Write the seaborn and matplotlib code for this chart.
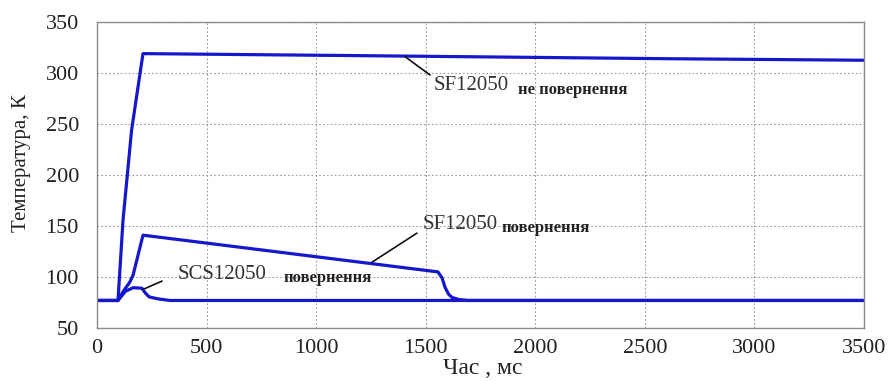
import numpy as np
import pandas as pd
import matplotlib
matplotlib.use("Agg")
import matplotlib.pyplot as plt
import seaborn as sns

# Temperature curves, time in ms, temperature in K
t_sf_no_return = [0, 96, 119, 158, 210, 700, 1200, 1900, 2600, 3500]
T_sf_no_return = [77, 77, 156, 244, 319, 318, 317, 315.5, 314, 312.5]

t_sf_return = [0, 96, 120, 150, 165, 210, 1556, 1575, 1588, 1605, 1620, 1650, 1690, 3500]
T_sf_return = [77, 77, 86, 95, 102, 141, 105, 99, 90, 83, 80, 78, 77, 77]

t_scs_return = [0, 96, 130, 165, 205, 222, 238, 280, 333, 3500]
T_scs_return = [77, 77, 86, 89.5, 89, 84, 80.5, 78.5, 77, 77]

x_ticks = [0, 500, 1000, 1500, 2000, 2500, 3000, 3500]
y_ticks = [50, 100, 150, 200, 250, 300, 350]

series = {
    "SF12050 не повернення": (t_sf_no_return, T_sf_no_return),
    "SF12050 повернення": (t_sf_return, T_sf_return),
    "SCS12050 повернення": (t_scs_return, T_scs_return),
}
df = pd.concat(
    [pd.DataFrame({"t": t, "T": T, "series": name}) for name, (t, T) in series.items()],
    ignore_index=True,
)

sns.set_theme(style="white")
plt.rcParams["font.family"] = ["Liberation Serif", "DejaVu Serif"]

fig = plt.figure(figsize=(8.92, 3.81), dpi=100)
ax = fig.add_axes([0.1087, 0.1391, 0.8599, 0.8032])

blue = "#1616cc"
sns.lineplot(data=df, x="t", y="T", units="series", estimator=None,
             color=blue, linewidth=2.3, ax=ax, sort=False)

ax.set_xlim(0, 3500)
ax.set_ylim(50, 350)
ax.set_xticks(x_ticks)
ax.set_yticks(y_ticks)
ax.tick_params(axis="both", labelsize=16, labelcolor="#222222", length=0, pad=8)
ax.tick_params(axis="y", pad=13)
ax.grid(True, color="#9a9a9a", linestyle=(0, (1.5, 2)), linewidth=0.8)
for s in ax.spines.values():
    s.set_color("#8c8c8c")
    s.set_linewidth(1.0)
ax.set_axisbelow(True)

ax.set_xlabel("Час , мс", fontsize=17, color="#222222")
ax.xaxis.label.set_va("center")
ax.xaxis.set_label_coords(0.503, -0.131)
ax.set_ylabel("Температура, К", fontsize=15, color="#222222")
ax.yaxis.label.set_va("center")
ax.yaxis.set_label_coords(-0.098, 0.539)

leader = dict(arrowstyle="-", color="#111111", linewidth=1.2, shrinkA=0, shrinkB=0)
txt_big = dict(fontsize=15, color="#333333", va="center", ha="left")
txt_small = dict(fontsize=12, color="#222222", fontweight="bold", va="center", ha="left")

# SF12050, no return
ax.annotate("", xy=(1406, 316), xytext=(1520, 298), arrowprops=leader)
ax.text(1534, 288, "SF12050", **txt_big)
ax.text(1921, 283, "не повернення", **txt_small)

# SF12050, return
ax.annotate("", xy=(1255, 114.5), xytext=(1460, 143), arrowprops=leader)
ax.text(1488, 151, "SF12050", **txt_big)
ax.text(1848, 148, "повернення", **txt_small)

# SCS12050, return
ax.annotate("", xy=(212, 88), xytext=(297, 96), arrowprops=leader)
ax.text(370, 102, "SCS12050", **txt_big)
ax.text(853, 99, "повернення", **txt_small)

fig.savefig("out.png", dpi=100)
